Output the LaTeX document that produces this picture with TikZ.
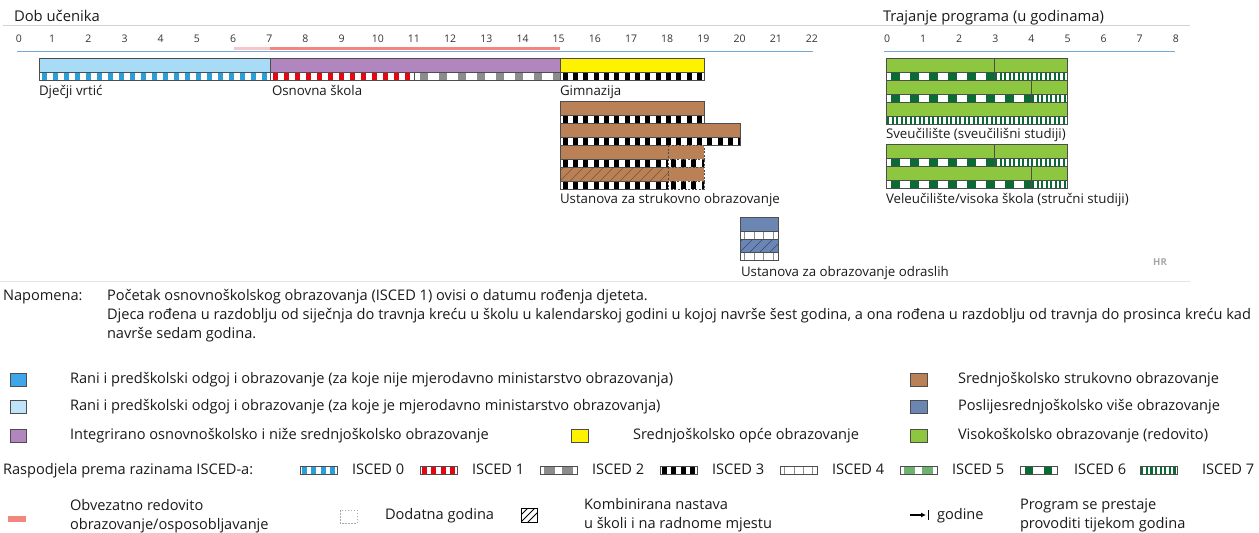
\documentclass[tikz,border=0pt]{standalone}
\usepackage{fontspec}
\setmainfont{Open Sans}
\usetikzlibrary{arrows.meta}
\definecolor{txt}{HTML}{1A1A1A}
\definecolor{ecec}{HTML}{A8DCF6}
\definecolor{ececlt}{HTML}{BFE4FA}
\definecolor{ecdark}{HTML}{3FA6EA}
\definecolor{isczero}{HTML}{2A9FD8}
\definecolor{purp}{HTML}{B186BF}
\definecolor{iscone}{HTML}{E30613}
\definecolor{isctwo}{HTML}{8C8C8C}
\definecolor{yel}{HTML}{FFF200}
\definecolor{brn}{HTML}{BA8157}
\definecolor{brnhatch}{HTML}{7E5336}
\definecolor{slate}{HTML}{6B86B3}
\definecolor{slatehatch}{HTML}{2F4A78}
\definecolor{grn}{HTML}{8DC63F}
\definecolor{dgrn}{HTML}{0B6B35}
\definecolor{mgrn}{HTML}{6DB36F}
\definecolor{salmon}{HTML}{F1877F}
\definecolor{pinklt}{HTML}{F6C6CB}
\definecolor{axisblue}{HTML}{74A9DA}
\definecolor{framegray}{HTML}{D2D2D2}
\definecolor{outl}{HTML}{4D4D4D}
\definecolor{tickc}{HTML}{333333}
% x1 x2 ytop colour blockwidth period outline-style
\newcommand\blockstrip[7]{%
  \begin{scope}
    \clip (#1,#3) rectangle (#2,#3+8);
    \fill[white] (#1,#3) rectangle (#2,#3+8);
    \pgfmathtruncatemacro\nblk{ceil((#2-#1)/#6)}
    \foreach \i in {0,...,\nblk}{\fill[#4] ({#1+#6*\i+(#6-#5)/2},#3) rectangle ++(#5,8);}
  \end{scope}
  \draw[#7] (#1,#3) rectangle (#2,#3+8);}
% x1 y1 x2 y2 linecolour
\newcommand\hatchbox[5]{%
  \begin{scope}
    \clip (#1,#2) rectangle (#3,#4);
    \foreach \k in {0,...,16}{\draw[#5, line width=0.6pt] ({#1-20+\k*10},#4) -- ++(20,-20);}
  \end{scope}}
\begin{document}
\begin{tikzpicture}[x=1pt,y=-1pt,
  every node/.style={inner sep=0pt, outer sep=0pt, text=txt},
  txt/.style={anchor=base west, font=\fontsize{14.6}{17}\selectfont},
  ttl/.style={anchor=base west, font=\fontsize{14.8}{17}\selectfont},
  lab/.style={anchor=base west, font=\fontsize{13.3}{15}\selectfont},
  tick/.style={anchor=base, font=\fontsize{10.5}{13}\selectfont, text=tickc},
  bar/.style={draw=outl, line width=0.5pt},
  sl/.style={draw=outl, line width=0.5pt},
  sld/.style={draw=outl, line width=0.5pt, dash pattern=on 2pt off 1.5pt},
  sq/.style={draw=outl, line width=0.6pt}]
\useasboundingbox (0,0) rectangle (1259,533);
% frame lines
\draw[framegray, line width=0.7pt] (3,25) -- (1190,25);
\draw[framegray!60, line width=0.6pt] (0,281.5) -- (1190,281.5);
% titles
\node[ttl] (tdob) at (14,21.5) {Dob učenika};
\node[ttl] (ttra) at (883,21.5) {Trajanje programa (u godinama)};
% age axis
\node[tick] (a0) at (19,42) {0};
\foreach \k in {1,...,22} \node[tick] (a\k) at ({16+36.18*\k},42) {\k};
\foreach \k in {0,...,8} \node[tick] (b\k) at ({887+36.1*\k},42) {\k};
\draw[pinklt, line width=3.5pt] (234,48.5) -- (270,48.5);
\draw[salmon, line width=3.5pt] (270,48.5) -- (560,48.5);
\draw[axisblue, line width=0.9pt] (17,51.5) -- (813,51.5);
\draw[axisblue, line width=0.9pt] (884,51.5) -- (1175,51.5);
% top row
\fill[ecec,bar] (39,58) rectangle (270,72);
\blockstrip{39}{270}{72}{isczero}{5}{11}{sl}
\fill[purp,bar] (270,58) rectangle (560,72);
\blockstrip{270}{414}{72}{iscone}{4.5}{11}{sl}
\blockstrip{414}{560}{72}{isctwo}{8}{19}{sl}
\fill[yel,bar] (560,58) rectangle (704,72);
\blockstrip{560}{704}{72}{black}{5}{10.34}{sl}
\node[lab] (lvrt) at (39,95.5) {Dječji vrtić};
\node[lab] (losn) at (272,95.5) {Osnovna škola};
\node[lab] (lgim) at (560,95.5) {Gimnazija};
% vocational
\fill[brn,bar] (560,101) rectangle (704,115);
\blockstrip{560}{704}{115}{black}{5}{10.34}{sl}
\fill[brn,bar] (560,123) rectangle (740,137);
\blockstrip{560}{740}{137}{black}{5}{10.34}{sl}
\fill[brn,bar] (560,145) rectangle (668,159);
\fill[brn] (668,145) rectangle (704,159);
\draw[sld] (668,145) rectangle (704,159);
\blockstrip{560}{668}{159}{black}{5}{10.34}{sl}
\blockstrip{668}{704}{159}{black}{5}{10.34}{sld}
\fill[brn] (560,167) rectangle (668,181);
\hatchbox{560}{167}{668}{181}{brnhatch}
\draw[bar] (560,167) rectangle (668,181);
\fill[brn] (668,167) rectangle (704,181);
\draw[sld] (668,167) rectangle (704,181);
\blockstrip{560}{668}{181}{black}{5}{10.34}{sl}
\blockstrip{668}{704}{181}{black}{5}{10.34}{sld}
\node[lab] (lstr) at (560,203.5) {Ustanova za strukovno obrazovanje};
% adult
\fill[slate,bar] (740,217) rectangle (778,231);
\blockstrip{740}{778}{231}{isctwo}{0.7}{9.5}{sl}
\fill[slate] (740,239) rectangle (778,252);
\hatchbox{740}{239}{778}{252}{slatehatch}
\draw[bar] (740,239) rectangle (778,252);
\blockstrip{740}{778}{252}{isctwo}{0.7}{9.5}{sl}
\node[lab] (lodr) at (741,276) {Ustanova za obrazovanje odraslih};
\node[anchor=base, font=\fontsize{9.5}{11}\selectfont\bfseries, text=black!35] (hr) at (1160,265.5) {HR};
% higher education
\fill[grn,bar] (886,58) rectangle (1067,72);
\draw[outl, line width=0.5pt] (994,58) -- (994,72);
\blockstrip{886}{994}{72}{dgrn}{8.3}{19}{sl}
\blockstrip{994}{1067}{72}{dgrn}{2.2}{4.5}{sl}
\fill[grn,bar] (886,80) rectangle (1067,94);
\draw[outl, line width=0.5pt] (1031,80) -- (1031,94);
\blockstrip{886}{1031}{94}{dgrn}{8.3}{19}{sl}
\blockstrip{1031}{1067}{94}{dgrn}{2.2}{4.5}{sl}
\fill[grn,bar] (886,102) rectangle (1067,116);
\blockstrip{886}{1067}{116}{dgrn}{2.2}{4.5}{sl}
\node[lab] (lsve) at (886,138) {Sveučilište (sveučilišni studiji)};
\fill[grn,bar] (886,144) rectangle (1067,158);
\draw[outl, line width=0.5pt] (994,144) -- (994,158);
\blockstrip{886}{994}{158}{dgrn}{8.3}{19}{sl}
\blockstrip{994}{1067}{158}{dgrn}{2.2}{4.5}{sl}
\fill[grn,bar] (886,166) rectangle (1067,180);
\draw[outl, line width=0.5pt] (1031,166) -- (1031,180);
\blockstrip{886}{1031}{180}{dgrn}{8.3}{19}{sl}
\blockstrip{1031}{1067}{180}{dgrn}{2.2}{4.5}{sl}
\node[lab] (lvel) at (886,203) {Veleučilište/visoka škola (stručni studiji)};
% note
\node[txt] (napo) at (3,300.5) {Napomena:};
\node[txt] (n1) at (107,300.5) {Početak osnovnoškolskog obrazovanja (ISCED 1) ovisi o datumu rođenja djeteta.};
\node[txt] (n2) at (107,319.5) {Djeca rođena u razdoblju od siječnja do travnja kreću u školu u kalendarskoj godini u kojoj navrše šest godina, a ona rođena u razdoblju od travnja do prosinca kreću kad};
\node[txt] (n3) at (107,338.5) {navrše sedam godina.};
% legend colours
\filldraw[fill=ecdark,sq] (10,373) rectangle (26,386);
\node[txt] (g1) at (70,383.5) {Rani i predškolski odgoj i obrazovanje (za koje nije mjerodavno ministarstvo obrazovanja)};
\filldraw[fill=ececlt,sq] (10,400) rectangle (26,413);
\node[txt] (g2) at (70,410.5) {Rani i predškolski odgoj i obrazovanje (za koje je mjerodavno ministarstvo obrazovanja)};
\filldraw[fill=purp,sq] (10,429) rectangle (26,442);
\node[txt] (g3) at (70,439.5) {Integrirano osnovnoškolsko i niže srednjoškolsko obrazovanje};
\filldraw[fill=yel,sq] (571,429) rectangle (588,442);
\node[txt] (g4) at (633,439.5) {Srednjoškolsko opće obrazovanje};
\filldraw[fill=brn,sq] (910,373) rectangle (927,386);
\node[txt] (g5) at (958,383.5) {Srednjoškolsko strukovno obrazovanje};
\filldraw[fill=slate,sq] (910,400) rectangle (927,413);
\node[txt] (g6) at (958,410.5) {Poslijesrednjoškolsko više obrazovanje};
\filldraw[fill=grn,sq] (910,429) rectangle (927,442);
\node[txt] (g7) at (958,439.5) {Visokoškolsko obrazovanje (redovito)};
% ISCED legend
\node[txt] (rasp) at (3,474.5) {Raspodjela prema razinama ISCED-a:};
\blockstrip{300}{337}{466}{isczero}{5}{9.25}{sl}
\node[txt] (i0) at (352,474.5) {ISCED 0};
\blockstrip{420}{457}{466}{iscone}{5}{9.25}{sl}
\node[txt] (i1) at (472,474.5) {ISCED 1};
\blockstrip{540}{577}{466}{isctwo}{11}{18.5}{sl}
\node[txt] (i2) at (592,474.5) {ISCED 2};
\blockstrip{660}{697}{466}{black}{5}{9.25}{sl}
\node[txt] (i3) at (712,474.5) {ISCED 3};
\blockstrip{780}{817}{466}{isctwo}{0.7}{9.25}{sl}
\node[txt] (i4) at (832,474.5) {ISCED 4};
\blockstrip{900}{937}{466}{mgrn}{11}{18.5}{sl}
\node[txt] (i5) at (952,474.5) {ISCED 5};
\blockstrip{1020}{1057}{466}{dgrn}{8}{18.5}{sl}
\node[txt] (i6) at (1074,474.5) {ISCED 6};
\blockstrip{1140}{1177}{466}{dgrn}{2.2}{4.6}{sl}
\node[txt] (i7) at (1202,474.5) {ISCED 7};
% bottom legend
\fill[salmon] (8,516) rectangle (26,522);
\node[txt] (o1) at (70,510) {Obvezatno redovito};
\node[txt] (o2) at (70,529) {obrazovanje/osposobljavanje};
\draw[framegray!80!black, line width=0.5pt, dash pattern=on 1.5pt off 1.5pt] (340,510) rectangle (357,523);
\node[txt] (dod) at (385,519.5) {Dodatna godina};
\draw[black, line width=1pt] (521,508) rectangle (537,522);
\begin{scope}
\clip (521,508) rectangle (537,522);
\draw[black, line width=1pt] (521,522) -- (535,508);
\draw[black, line width=1pt] (528,522) -- (542,508);
\draw[black, line width=1pt] (514,522) -- (528,508);
\end{scope}
\node[txt] (k1) at (584,509.5) {Kombinirana nastava};
\node[txt] (k2) at (584,528.5) {u školi i na radnome mjestu};
\coordinate (arA) at (910,515);
\coordinate (arB) at (926,515);
\draw[black, line width=1.3pt, -{Latex[length=5pt,width=5pt]}] (arA) -- (arB);
\draw[black, line width=1.5pt] (928.5,510) -- (928.5,520);
\node[txt] (god) at (937,519.5) {godine};
\node[txt] (p1) at (1020,509.5) {Program se prestaje};
\node[txt] (p2) at (1020,528.5) {provoditi tijekom godina};
\end{tikzpicture}
\end{document}
